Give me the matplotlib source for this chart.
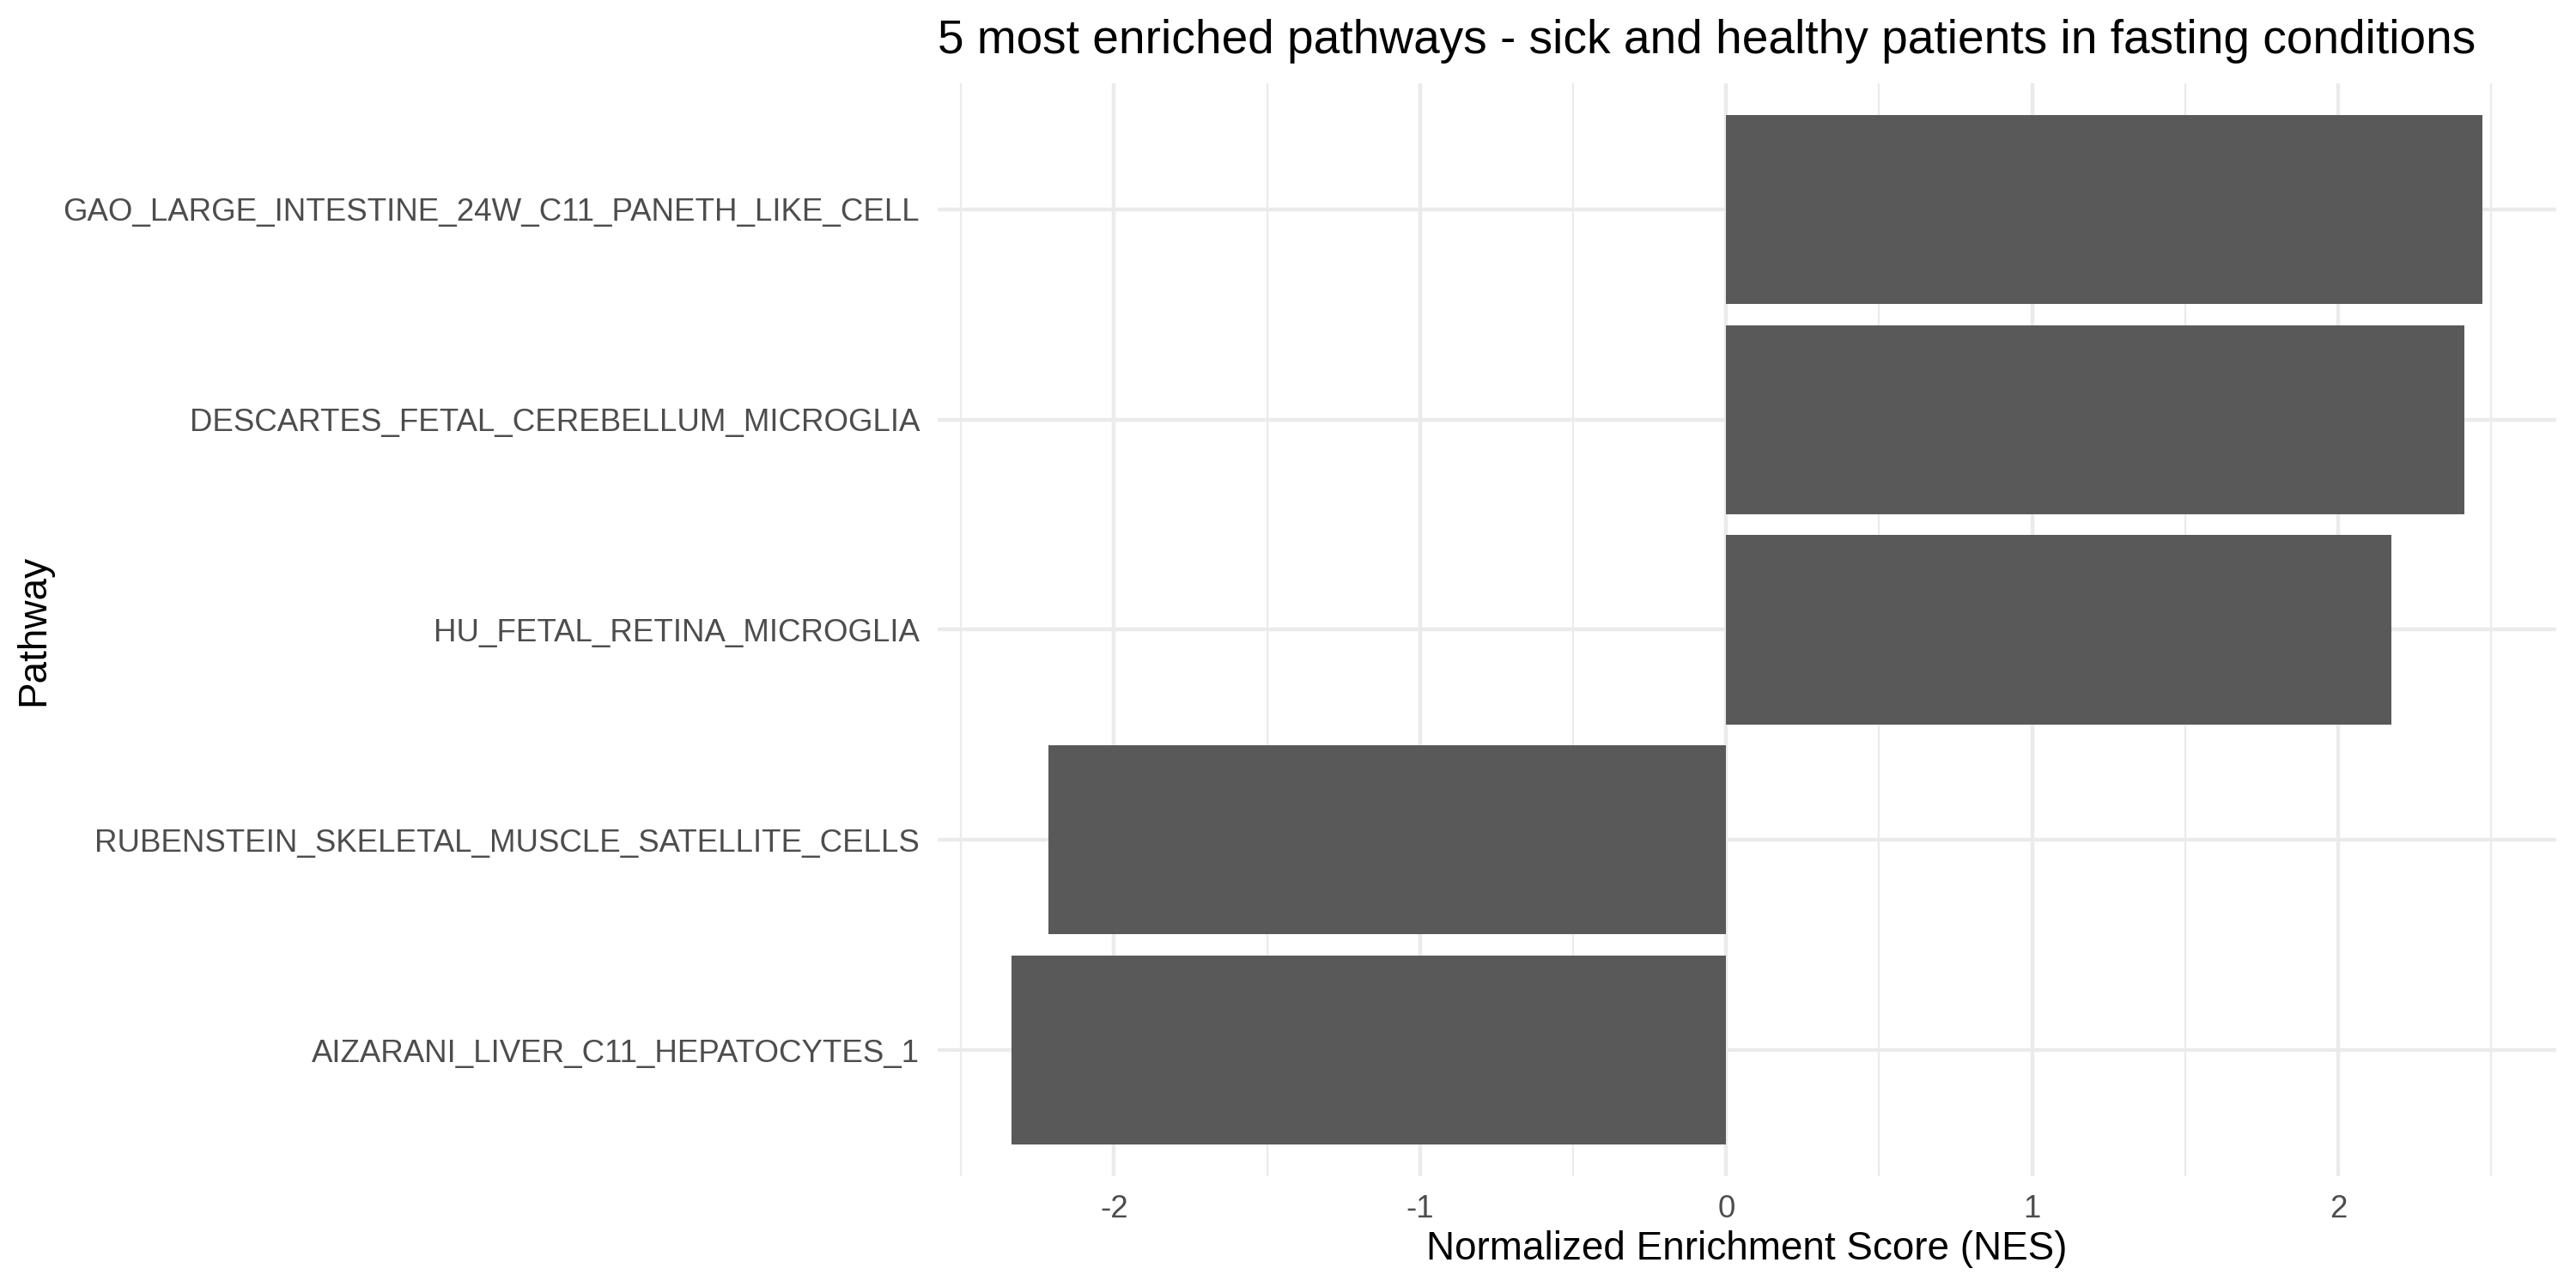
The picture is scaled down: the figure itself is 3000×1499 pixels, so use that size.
import matplotlib
matplotlib.use("Agg")
import matplotlib.pyplot as plt
import numpy as np

plt.rcParams['font.family'] = ['Liberation Sans', 'DejaVu Sans']
plt.rcParams['axes.unicode_minus'] = False

pathways = [
    "AIZARANI_LIVER_C11_HEPATOCYTES_1",
    "RUBENSTEIN_SKELETAL_MUSCLE_SATELLITE_CELLS",
    "HU_FETAL_RETINA_MICROGLIA",
    "DESCARTES_FETAL_CEREBELLUM_MICROGLIA",
    "GAO_LARGE_INTESTINE_24W_C11_PANETH_LIKE_CELL",
]
nes = [-2.336, -2.215, 2.175, 2.413, 2.472]
x_ticks = [-2, -1, 0, 1, 2]
x_tick_labels = ["-2", "-1", "0", "1", "2"]
x_minor = [-2.5, -1.5, -0.5, 0.5, 1.5, 2.5]

title = "5 most enriched pathways - sick and healthy patients in fasting conditions"
xlabel = "Normalized Enrichment Score (NES)"
ylabel = "Pathway"

W, H = 3000, 1499
dpi = 300
fig = plt.figure(figsize=(W / dpi, H / dpi), dpi=dpi)
left, right, top, bottom = 1092 / W, 2977 / W, 97 / H, 1370 / H
ax = fig.add_axes([left, 1 - bottom, right - left, bottom - top])

ypos = np.arange(len(pathways))
ax.barh(ypos, nes, height=0.9, color="#595959", zorder=3)

# limits like ggplot expansion
lo = min(min(nes), 0)
hi = max(max(nes), 0)
rng = hi - lo
ax.set_xlim(lo - 0.05 * rng, hi + 0.05 * rng)
ax.set_ylim(-0.6, len(pathways) - 1 + 0.6)

ax.set_xticks(x_ticks)
ax.set_xticklabels(x_tick_labels)
ax.set_xticks(x_minor, minor=True)
ax.set_yticks(ypos)
ax.set_yticklabels(pathways)

for s in ax.spines.values():
    s.set_visible(False)
ax.tick_params(axis='both', which='both', length=0, labelsize=8.8, labelcolor="#4D4D4D", pad=5)
ax.grid(True, which='major', axis='both', color="#EBEBEB", linewidth=1.07, zorder=0)
ax.grid(True, which='minor', axis='x', color="#EBEBEB", linewidth=0.53, zorder=0)
ax.set_axisbelow(True)

fig.text(left, 1 - 62 / H, title, fontsize=13.2, color="black", ha='left', va='baseline')
fig.text((left + right) / 2, 1 - 1467 / H, xlabel, fontsize=11, color="black", ha='center', va='baseline')
fig.text(39 / W, 1 - (top + bottom) / 2, ylabel, fontsize=11, color="black", ha='center', va='center', rotation=90)

fig.savefig("out.png", dpi=dpi, facecolor="white")
